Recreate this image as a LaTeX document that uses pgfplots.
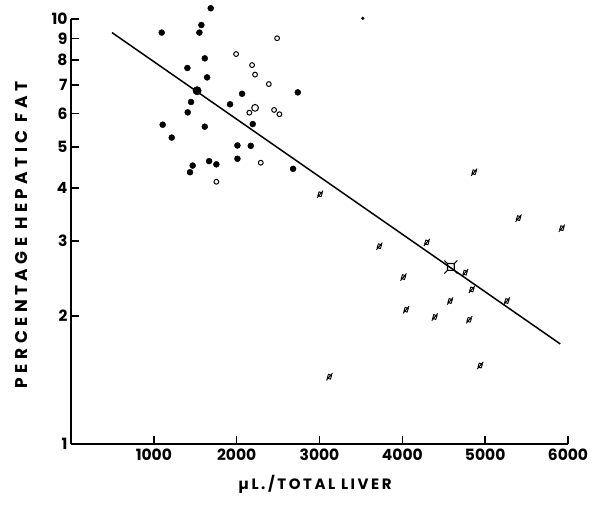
\documentclass[border=0pt]{standalone}
\usepackage{fontspec}
\setmainfont{Poppins}
\usepackage{pgfplots}
\pgfplotsset{compat=1.18}

\pgfdeclareplotmark{oslash}{%
  \pgfpathmoveto{\pgfpoint{-2.2pt}{-1.4pt}}%
  \pgfpathlineto{\pgfpoint{1.0pt}{-2.4pt}}%
  \pgfpathlineto{\pgfpoint{2.2pt}{1.4pt}}%
  \pgfpathlineto{\pgfpoint{-1.0pt}{2.4pt}}%
  \pgfpathclose
  \pgfpathmoveto{\pgfpoint{-3.0pt}{-3.6pt}}%
  \pgfpathlineto{\pgfpoint{3.0pt}{3.6pt}}%
  \pgfusepathqstroke
}
\pgfdeclareplotmark{xsquare}{%
  \pgfpathrectangle{\pgfpoint{-3.4pt}{-3.4pt}}{\pgfpoint{6.8pt}{6.8pt}}%
  \pgfpathmoveto{\pgfpoint{3.4pt}{3.4pt}}\pgfpathlineto{\pgfpoint{6.5pt}{6.5pt}}%
  \pgfpathmoveto{\pgfpoint{-3.4pt}{-3.4pt}}\pgfpathlineto{\pgfpoint{-6.5pt}{-6.5pt}}%
  \pgfpathmoveto{\pgfpoint{3.4pt}{-3.4pt}}\pgfpathlineto{\pgfpoint{6.5pt}{-6.5pt}}%
  \pgfpathmoveto{\pgfpoint{-3.4pt}{3.4pt}}\pgfpathlineto{\pgfpoint{-6.5pt}{6.5pt}}%
  \pgfusepathqstroke
}

\begin{document}
\begin{tikzpicture}
\path (-71pt,-60pt) rectangle (525pt,444pt);
\begin{axis}[
  at={(0pt,0pt)}, anchor=south west,
  scale only axis, width=497pt, height=425pt,
  xmin=0, xmax=6000, ymin=1, ymax=10,
  ymode=log,
  axis x line*=bottom, axis y line*=left,
  axis line style={-, line width=1.6pt},
  clip=false,
  xtick align=inside, ytick align=inside,
  major tick length=8pt,
  xtick style={draw=black, line width=1.5pt},
  ytick style={draw=black, line width=1.5pt},
  xtick={1000,2000,3000,4000,5000,6000},
  xticklabels={1000,2000,3000,4000,5000,6000},
  ytick={1,2,3,4,5,6,7,8,9,10},
  yticklabels={1,2,3,4,5,6,7,8,9,10},
  /pgf/number format/assume math mode=true,
  ticklabel style={font=\fontsize{15.5}{15.5}\selectfont\bfseries},
  xticklabel style={yshift=-1pt},
  every axis x label/.style={at={(axis description cs:0.491,-0.108)}, anchor=base,
     font=\fontsize{15}{15}\selectfont\bfseries},
  every axis y label/.style={at={(axis description cs:-0.0986,0.492)}, rotate=90, anchor=center,
     font=\fontsize{17}{17}\selectfont\bfseries},
  xlabel={\addfontfeature{LetterSpace=17}µL./TOTAL LIVER},
  ylabel={\addfontfeature{LetterSpace=26}PERCENTAGE HEPATIC FAT},
]
% tick marks (inside), both ends in axis coordinates
\pgfplotsinvokeforeach{1000,2000,3000,4000,5000,6000}{
  \draw[black, line width=1.5pt] (axis cs:#1,1) -- (axis cs:#1,1.044);
}
\pgfplotsinvokeforeach{2,3,4,5,6,7,8,9,10}{
  \draw[black, line width=1.5pt] (axis cs:0,#1) -- (axis cs:85,#1);
}
% regression line
\addplot[black, line width=1.5pt, mark=none] coordinates {(495,9.29) (5906,1.72)};
% filled circles
\addplot[only marks, mark=*, mark size=3pt, black] coordinates {
(1095,9.29) (1687,10.6) (1574,9.68) (1550,9.29) (1615,8.08) (1405,7.67)
(1643,7.29) (1449,6.38) (1409,6.03) (1107,5.64) (1615,5.58) (1216,5.26)
(2009,5.04) (2170,5.03) (1469,4.52) (1437,4.36) (1667,4.63) (1755,4.55)
(2009,4.69) (1920,6.30) (2065,6.67) (2194,5.66) (2738,6.72) (2681,4.44)
};
\addplot[only marks, mark=*, mark size=4.2pt, black] coordinates {(1522,6.78)};
\addplot[only marks, mark=*, mark size=1.4pt, black] coordinates {(3523,10.04)};
% open circles
\addplot[only marks, mark=o, mark size=2.4pt, black, line width=1pt] coordinates {
(1993,8.27) (2488,9.01) (2186,7.79) (2222,7.40) (2388,7.03) (2153,6.02)
(2452,6.11) (2516,5.97) (2291,4.59) (1755,4.14)
};
\addplot[only marks, mark=o, mark size=3.4pt, black, line width=1pt] coordinates {(2222,6.18)};
% slashed marks
\addplot[only marks, mark=oslash, black, line width=0.9pt] coordinates {
(3007,3.87) (4867,4.36) (5403,3.40) (5926,3.22) (3723,2.92) (4296,2.98)
(4014,2.47) (4758,2.53) (4839,2.31) (4577,2.17) (5262,2.17) (4046,2.07)
(4392,1.99) (4807,1.96) (4940,1.53) (3120,1.44)
};
% mean point
\addplot[only marks, mark=xsquare, black, line width=1.1pt] coordinates {(4586,2.61)};
\end{axis}
\end{tikzpicture}
\end{document}
